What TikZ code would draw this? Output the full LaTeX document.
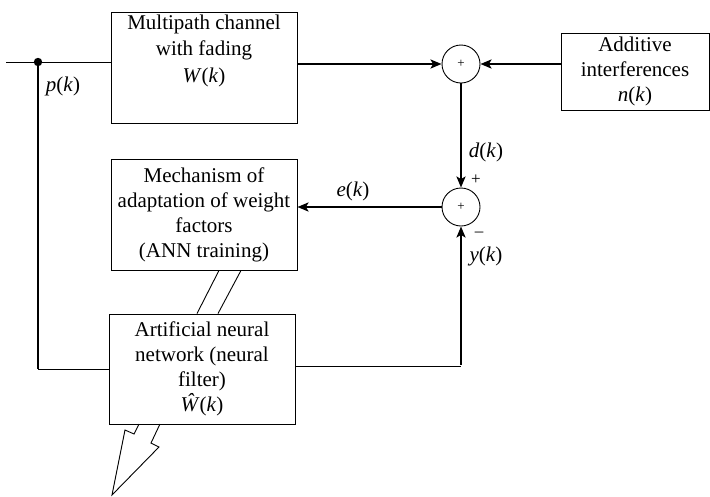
\documentclass[tikz,border=0pt]{standalone}
\usepackage{fontspec}
\setmainfont{Liberation Serif}
\usetikzlibrary{arrows.meta,calc}
\newcommand{\sigk}[1]{\textit{#1}(\textit{k})}
\begin{document}
\begin{tikzpicture}[x=1pt,y=-1pt,
    font=\fontsize{21}{25}\selectfont,
    blockbox/.style={draw,line width=0.9pt,align=center,inner sep=2pt},
    sumnode/.style={draw,circle,line width=0.9pt,minimum size=38pt,inner sep=0pt,font=\fontsize{13}{13}\selectfont},
    thin line/.style={line width=0.9pt},
    thick line/.style={line width=2.3pt},
    sigarrow/.style={thick line,-{Stealth[length=11pt,width=9pt,inset=2.5pt]}}]
  \useasboundingbox (0,0) rectangle (710,496);
  % blocks
  \node[blockbox,minimum width=186pt,minimum height=111pt] (chan) at (204,67.5) {};
  \node[align=center,anchor=north,font=\fontsize{21}{26.5}\selectfont] (chantxt) at (204,11) {Multipath channel\\with fading\\\sigk{W}};
  \node[blockbox,minimum width=148pt,minimum height=77pt] (noise) at (635,71.5) {Additive\\interferences\\\sigk{n}};
  \node[blockbox,minimum width=186pt,minimum height=111pt] (mech) at (204,214.5) {Mechanism of\\adaptation of weight\\factors\\(ANN training)};
  \node[blockbox,minimum width=186pt,minimum height=110pt] (ann) at (202,369) {Artificial neural\\network (neural\\filter)\\\textit{Ŵ}(\textit{k})};
  % summing points
  \node[sumnode] (sum1) at (461,64) {+};
  \node[sumnode] (sum2) at (461,207) {+};
  % input and branch point
  \coordinate (in) at (6,62);
  \coordinate (branch) at (38,62);
  \coordinate (fb) at (38,369);
  \draw[thin line] (in) -- (in -| chan.west);
  \fill (branch) circle (4.2);
  \draw[thick line] (branch) -- (fb);
  \draw[thin line] (fb) -- (ann.west);
  \node (plabel) at (63,86) {\sigk{p}};
  % signal paths to the summing points
  \draw[sigarrow] (chan.east |- sum1) -- (sum1.west);
  \draw[sigarrow] (noise.west |- sum1) -- (sum1.east);
  \draw[sigarrow] (sum1.south) -- (sum2.north);
  \node (dlabel) at (486,152) {\sigk{d}};
  \node[font=\fontsize{17}{17}\selectfont] (plus) at (476,180) {+};
  % error to the adaptation block
  \draw[sigarrow] (sum2.west) -- (sum2.west -| mech.east);
  \node (elabel) at (353,191) {\sigk{e}};
  % filter output back to the second summing point
  \coordinate (outcorner) at (461,366);
  \draw[thin line] (ann.east |- outcorner) -- (outcorner);
  \draw[sigarrow] ([yshift=1pt]outcorner) -- (sum2.south);
  \node[font=\fontsize{17}{17}\selectfont] (minus) at (479,234) {\textendash};
  \node (ylabel) at (486,256) {\sigk{y}};
  % link between adaptation block and ANN
  \draw[thin line] ([xshift=15pt]mech.south) -- ([xshift=-5pt]ann.north);
  \draw[thin line] ([xshift=37pt]mech.south) -- ([xshift=16pt]ann.north);
  % output arrow (lightning)
  \draw[thin line,line join=miter] (139,424) -- (134,434) -- (125,430) -- (112,495)
    -- (159,447) -- (151,443) -- (160,424);
\end{tikzpicture}
\end{document}
